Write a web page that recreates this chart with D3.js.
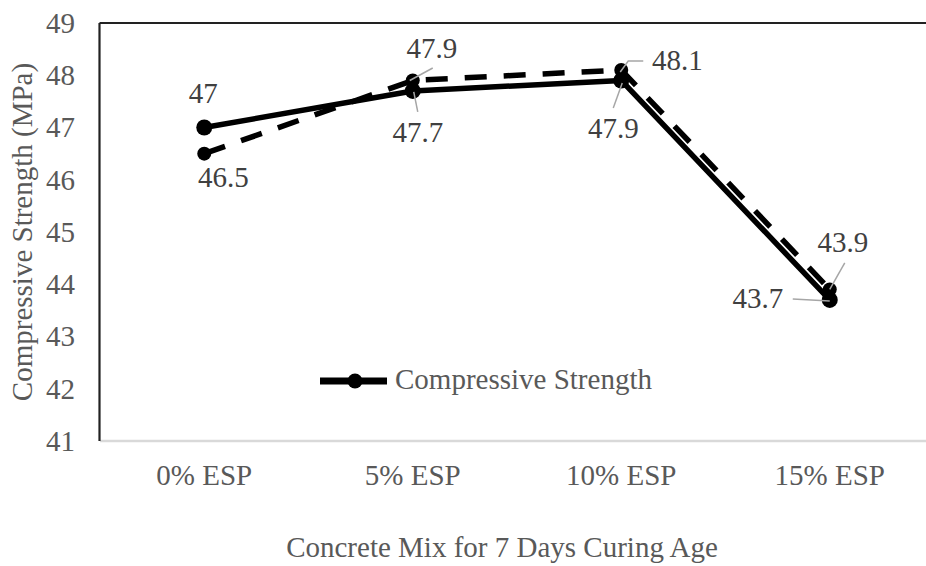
<!DOCTYPE html>
<html>
<head>
<meta charset="utf-8">
<script src="https://cdn.jsdelivr.net/npm/d3@7"></script>
<style>
  body { margin: 0; background: #fff; }
  svg text { font-family: "Liberation Serif", "Times New Roman", serif; }
</style>
</head>
<body>
<svg id="chart" width="926" height="566"></svg>
<script>
// data
const categories = ['0% ESP', '5% ESP', '10% ESP', '15% ESP']
const strength = [47, 47.7, 47.9, 43.7]
const strengthDashed = [46.5, 47.9, 48.1, 43.9]
const yTicks = [41, 42, 43, 44, 45, 46, 47, 48, 49]
const seriesName = 'Compressive Strength'
const xTitle = 'Concrete Mix for 7 Days Curing Age'
const yTitle = 'Compressive Strength (MPa)'

// label placement (offsets from the point), leader lines relative to point
const solidLabels = [
    {dx: -1, dy: -24.5, leader: null},
    {dx: 5, dy: 51, leader: [[1, 1], [5, 21]]},
    {dx: -8, dy: 57.5, leader: [[1, 2.5], [-8, 27.5]]},
    {dx: -72, dy: 8, leader: [[-37, -1], [0, 1]]}
]
const dashedLabels = [
    {dx: 19, dy: 33, leader: null},
    {dx: 19, dy: -22.5, leader: [[-3, 0], [20, -12.5]]},
    {dx: 56, dy: 0, leader: [[-1, 2], [7, -9], [22, -9]]},
    {dx: 13, dy: -37.5, leader: [[0, 0], [15, -26.5]]}
]

let svg = d3.select('#chart')
let plotLeft = 100, plotRight = 934, plotTop = 23, plotBottom = 441

let x = d3.scaleBand().domain(categories).range([plotLeft, plotRight]).padding(0)
let y = d3.scaleLinear().domain([41, 49]).range([plotBottom, plotTop])
let cx = c => x(c) + x.bandwidth() / 2

// axes
svg.append('line').attr('x1', plotLeft).attr('x2', 926).attr('y1', plotBottom).attr('y2', plotBottom)
    .attr('stroke', '#d9d9d9').attr('stroke-width', 2.5)
svg.append('line').attr('x1', plotLeft - 0.5).attr('x2', 926).attr('y1', plotTop).attr('y2', plotTop)
    .attr('stroke', '#222').attr('stroke-width', 2.2)
svg.append('line').attr('x1', plotLeft - 0.5).attr('x2', plotLeft - 0.5).attr('y1', plotTop).attr('y2', plotBottom)
    .attr('stroke', '#222').attr('stroke-width', 2.2)

let yAxis = svg.append('g').attr('transform', 'translate(' + plotLeft + ',0)')
    .call(d3.axisLeft(y).tickValues(yTicks).tickSize(0).tickPadding(25).tickFormat(d3.format('d')))
yAxis.select('.domain').remove()
yAxis.selectAll('text').attr('font-size', 29).attr('fill', '#595959')
    .attr('font-family', '"Liberation Serif", serif').attr('dy', '0.32em')

let xAxis = svg.append('g').attr('transform', 'translate(0,' + plotBottom + ')')
    .call(d3.axisBottom(x).tickSize(0).tickPadding(0))
xAxis.select('.domain').remove()
xAxis.selectAll('text').attr('font-size', 29).attr('fill', '#595959')
    .attr('font-family', '"Liberation Serif", serif').attr('dy', 44)

// titles
svg.append('text').attr('x', 502).attr('y', 557).attr('text-anchor', 'middle')
    .attr('font-size', 29).attr('fill', '#595959').text(xTitle)
svg.append('text').attr('transform', 'translate(32,232) rotate(-90)').attr('text-anchor', 'middle')
    .attr('font-size', 29).attr('fill', '#595959').text(yTitle)

// lines
let line = d3.line().x((d, i) => cx(categories[i])).y(d => y(d))
svg.append('path').datum(strength).attr('d', line).attr('fill', 'none')
    .attr('stroke', '#000').attr('stroke-width', 5.5).attr('stroke-linejoin', 'round')
svg.append('path').datum(strengthDashed).attr('d', line).attr('fill', 'none')
    .attr('stroke', '#000').attr('stroke-width', 5.5).attr('stroke-dasharray', '22,17')

svg.append('g').selectAll('circle').data(strength).join('circle')
    .attr('cx', (d, i) => cx(categories[i])).attr('cy', d => y(d)).attr('r', 8).attr('fill', '#000')
svg.append('g').selectAll('circle').data(strengthDashed).join('circle')
    .attr('cx', (d, i) => cx(categories[i])).attr('cy', d => y(d)).attr('r', 7).attr('fill', '#000')

// data labels
function drawLabels(values, placement) {
    let g = svg.append('g')
    values.forEach((v, i) => {
        let px = cx(categories[i]), py = y(v)
        let p = placement[i]
        if (p.leader) {
            g.append('path')
                .attr('d', d3.line()(p.leader.map(q => [px + q[0], py + q[1]])))
                .attr('fill', 'none').attr('stroke', '#a6a6a6').attr('stroke-width', 1.5)
        }
        g.append('text').attr('x', px + p.dx).attr('y', py + p.dy).attr('text-anchor', 'middle')
            .attr('font-size', 29).attr('fill', '#404040').text(v)
    })
}
drawLabels(strength, solidLabels)
drawLabels(strengthDashed, dashedLabels)

// legend
let lg = svg.append('g')
lg.append('line').attr('x1', 320).attr('x2', 387).attr('y1', 381).attr('y2', 381)
    .attr('stroke', '#000').attr('stroke-width', 7)
lg.append('circle').attr('cx', 355).attr('cy', 381).attr('r', 7.5).attr('fill', '#000')
lg.append('text').attr('x', 395).attr('y', 389).attr('font-size', 29).attr('fill', '#595959').text(seriesName)
</script>
</body>
</html>
